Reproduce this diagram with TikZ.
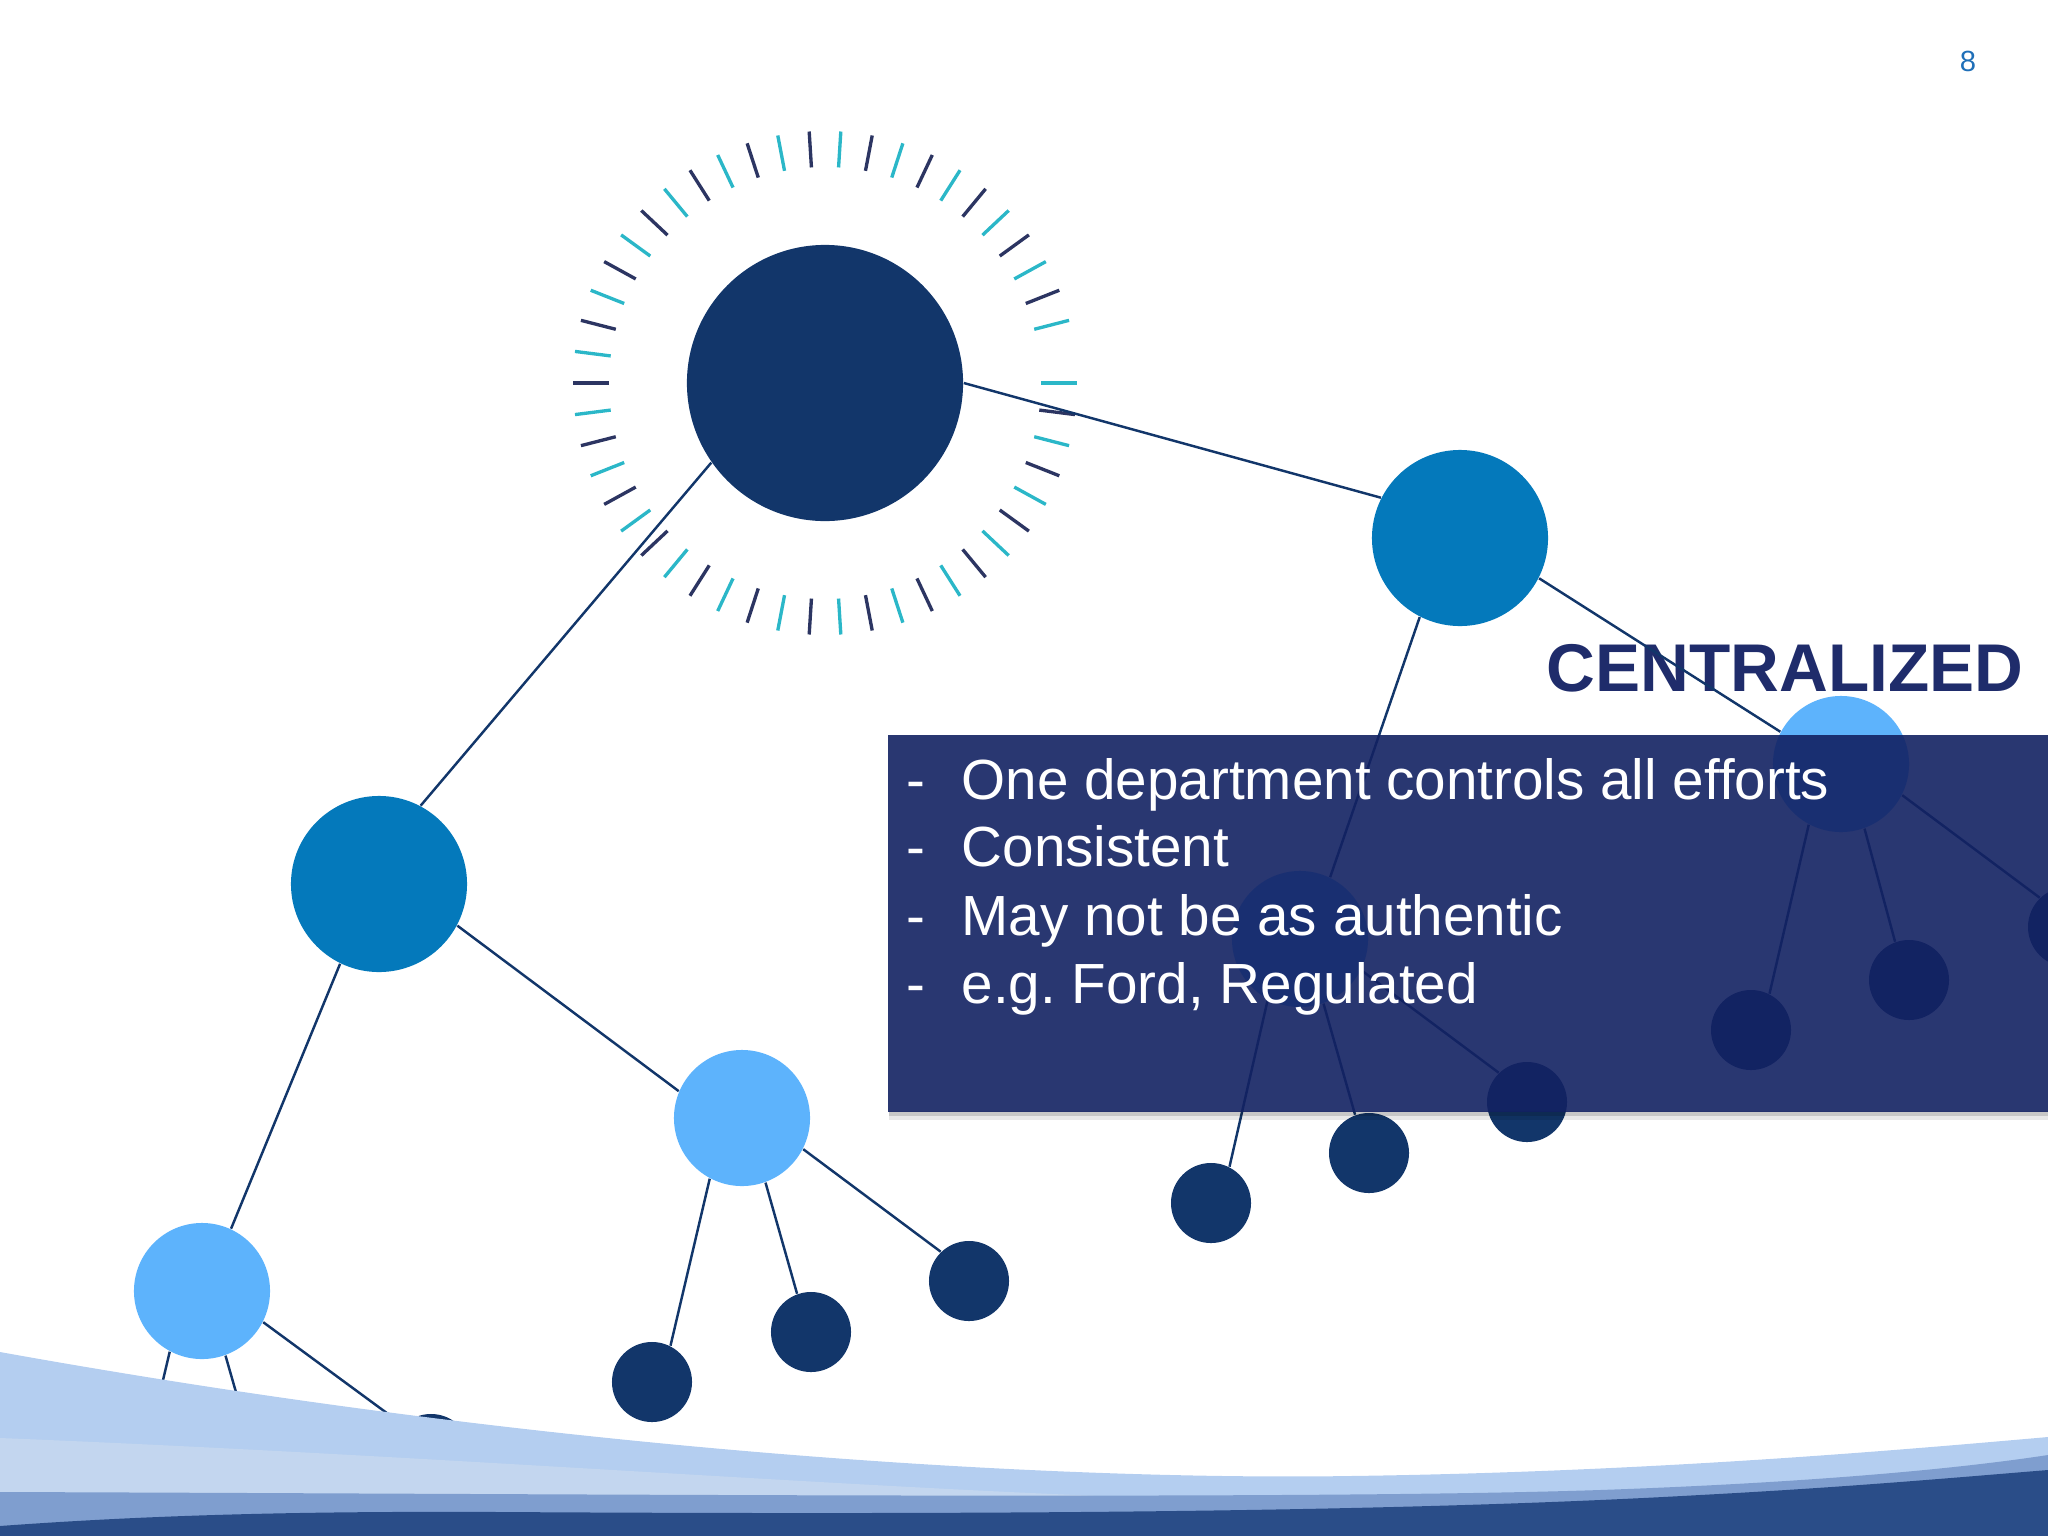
\documentclass[tikz,border=0pt]{standalone}
\usepackage{fontspec}
\setmainfont{Liberation Sans}
\frenchspacing

\definecolor{hubblue}{HTML}{12366A}
\definecolor{branchblue}{HTML}{0479BB}
\definecolor{twigblue}{HTML}{5DB3FC}
\definecolor{tickcyan}{HTML}{2BB7C8}
\definecolor{tickdark}{HTML}{2C3562}
\definecolor{boxblue}{RGB}{18,33,98}
\definecolor{titleblue}{HTML}{1F2C6B}
\definecolor{pageblue}{HTML}{1F6FB8}
\definecolor{wavelight}{HTML}{B4CEF0}
\definecolor{wavepale}{HTML}{C3D6EF}
\definecolor{wavemid}{HTML}{7F9ECF}
\definecolor{wavedark}{HTML}{2A4D88}

\tikzset{
	ball/.style={circle, inner sep=0pt, draw=none},
	hubnode/.style={ball, fill=hubblue, minimum size=2.76cm},
	branchnode/.style={ball, fill=branchblue, minimum size=1.76cm},
	twignode/.style={ball, fill=twigblue, minimum size=1.36cm},
	leafnode/.style={ball, fill=hubblue, minimum size=0.8cm},
	link/.style={hubblue, line width=0.7pt},
	cyantick/.style={tickcyan, line width=0.95pt},
	darktick/.style={tickdark, line width=0.95pt},
	headtext/.style={anchor=base east, inner sep=0pt, text=titleblue,
		font=\fontsize{19.2}{23}\selectfont\bfseries},
	itemtext/.style={anchor=base west, inner sep=0pt, text=white,
		font=\fontsize{16.1}{19}\selectfont},
	panel/.style={anchor=north west, inner sep=0pt, minimum width=11.61cm,
		minimum height=3.77cm, fill=boxblue, fill opacity=0.9}
}

\begin{document}
\begin{tikzpicture}[x=0.01cm, y=-0.01cm]
	\useasboundingbox (0,0) rectangle (2048,1536);
	\clip (0,0) rectangle (2048,1536);
	%heading
		\node[headtext] (heading) at (2024,691) {CENTRALIZED};
	%tree nodes
		\node[hubnode] (hub) at (825,383) {};
		\node[branchnode] (lbranch) at (379,884) {};
		\node[branchnode] (rbranch) at (1460,538) {};
		\node[twignode] (ltwigA) at (742,1118) {};
		\node[twignode] (ltwigB) at (202,1291) {};
		\node[twignode] (rtwigA) at (1300,939) {};
		\node[twignode] (rtwigB) at (1841,764) {};
		\node[leafnode] (la1) at (652,1382) {};
		\node[leafnode] (la2) at (811,1332) {};
		\node[leafnode] (la3) at (969,1281) {};
		\node[leafnode] (lb1) at (112,1554) {};
		\node[leafnode] (lb2) at (271,1504) {};
		\node[leafnode] (lb3) at (431,1454) {};
		\node[leafnode] (ra1) at (1211,1203) {};
		\node[leafnode] (ra2) at (1369,1153) {};
		\node[leafnode] (ra3) at (1527,1102) {};
		\node[leafnode] (rb1) at (1751,1030) {};
		\node[leafnode] (rb2) at (1909,980) {};
		\node[leafnode] (rb3) at (2068,927) {};
	%tick ring
		\foreach \a in {0,14.4,...,345.6}
			\draw[cyantick] (hub.center) ++(\a:216) -- ++(\a:36);
		\foreach \a in {7.2,21.6,...,352.8}
			\draw[darktick] (hub.center) ++(\a:216) -- ++(\a:36);
	%links
		\draw[link] (hub.215) -- (lbranch.62);
		\draw[link] (hub.0) -- (rbranch.153);
		\draw[link] (lbranch.332) -- (ltwigA.157);
		\draw[link] (lbranch.244) -- (ltwigB.65);
		\draw[link] (rbranch.243) -- (rtwigA.64);
		\draw[link] (rbranch.333) -- (rtwigB.152);
		\draw[link] (ltwigA.242) -- (la1.63);
		\draw[link] (ltwigA.290) -- (la2.110);
		\draw[link] (ltwigA.333) -- (la3.134);
		\draw[link] (ltwigB.242) -- (lb1.63);
		\draw[link] (ltwigB.290) -- (lb2.110);
		\draw[link] (ltwigB.333) -- (lb3.134);
		\draw[link] (rtwigA.242) -- (ra1.63);
		\draw[link] (rtwigA.290) -- (ra2.110);
		\draw[link] (rtwigA.333) -- (ra3.134);
		\draw[link] (rtwigB.242) -- (rb1.63);
		\draw[link] (rtwigB.290) -- (rb2.110);
		\draw[link] (rtwigB.333) -- (rb3.134);
	%text panel + shadow
		\fill[black, opacity=0.22] (889,1111) rectangle (2048,1116);
		\fill[black, opacity=0.09] (889,1116) rectangle (2048,1120);
		\node[panel] (panel) at (887,734) {};
		\node[itemtext] (item1) at (906,799) {\makebox[0.55cm][l]{-}One department controls all efforts};
		\node[itemtext] (item2) at (906,866) {\makebox[0.55cm][l]{-}Consistent};
		\node[itemtext] (item3) at (906,935) {\makebox[0.55cm][l]{-}May not be as authentic};
		\node[itemtext] (item4) at (906,1003) {\makebox[0.55cm][l]{-}e.g. Ford, Regulated};
	%bottom wave
		\fill[wavelight] (0,1352) .. controls (600,1460) and (1100,1480) .. (1350,1476)
			.. controls (1650,1472) and (1900,1450) .. (2048,1437)
			-- (2048,1536) -- (0,1536) -- cycle;
		\fill[wavepale] (0,1438) .. controls (400,1454) and (800,1484) .. (1100,1496)
			-- (0,1496) -- cycle;
		\fill[wavemid] (0,1492) .. controls (600,1494) and (1300,1500) .. (1600,1490)
			.. controls (1800,1483) and (1950,1470) .. (2048,1455)
			-- (2048,1536) -- (0,1536) -- cycle;
		\fill[wavedark] (0,1526) .. controls (150,1515) and (300,1511) .. (500,1512)
			.. controls (1000,1515) and (1400,1512) .. (1700,1495)
			.. controls (1850,1487) and (1950,1478) .. (2048,1470)
			-- (2048,1536) -- (0,1536) -- cycle;
	%page number
		\node[text=pageblue, font=\fontsize{8.3}{10}\selectfont] (pagenum) at (1968,61) {8};
\end{tikzpicture}
\end{document}
